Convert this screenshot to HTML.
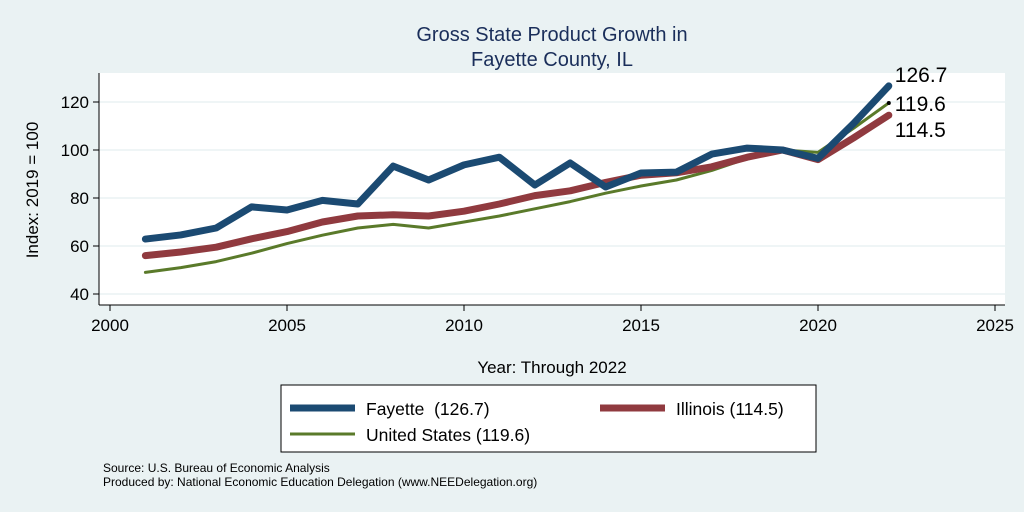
<!DOCTYPE html>
<html><head><meta charset="utf-8"><style>
body{margin:0;background:#eaf2f3;font-family:"Liberation Sans",sans-serif}
svg{display:block}
</style></head><body>
<svg id="c" width="1024" height="512" xmlns="http://www.w3.org/2000/svg">
<rect x="0" y="0" width="1024" height="512" fill="#eaf2f3"/>
<rect x="99" y="73" width="906" height="232" fill="#fff"/>
<text x="552" y="41" text-anchor="middle" font-size="20" fill="#1a2e5a">Gross State Product Growth in</text>
<text x="552" y="66" text-anchor="middle" font-size="20" fill="#1a2e5a">Fayette County, IL</text>
<g id="grid"></g><g id="axes"></g><g id="series"></g>
<text x="38" y="190" text-anchor="middle" font-size="17" transform="rotate(-90 38 190)">Index: 2019 = 100</text>
<text x="552" y="373" text-anchor="middle" font-size="17">Year: Through 2022</text>
<g>
<rect x="281" y="385" width="535" height="67" fill="#fff" stroke="#000" stroke-width="1"/>
<g><line x1="290" y1="408" x2="355" y2="408" stroke="#1b4a72" stroke-width="7"/><text x="366" y="415" font-size="17.5" xml:space="preserve">Fayette  (126.7)</text></g>
<g><line x1="600" y1="408" x2="665" y2="408" stroke="#903a3f" stroke-width="7"/><text x="676" y="415" font-size="17.5">Illinois (114.5)</text></g>
<g><line x1="290" y1="434" x2="355" y2="434" stroke="#5a7a2a" stroke-width="3"/><text x="366" y="441" font-size="17.5">United States (119.6)</text></g>
</g>
<text x="103" y="472" font-size="12">Source: U.S. Bureau of Economic Analysis</text>
<text x="103" y="486" font-size="12">Produced by: National Economic Education Delegation (www.NEEDelegation.org)</text>
</svg>
<script>
const years=[2001,2002,2003,2004,2005,2006,2007,2008,2009,2010,2011,2012,2013,2014,2015,2016,2017,2018,2019,2020,2021,2022];
const fayette=[62.9,64.6,67.5,76.3,75,79,77.5,93.3,87.5,93.8,97,85.4,94.6,84.6,90.4,90.8,98.3,100.8,100,96.5,111,126.7];
const illinois=[56,57.5,59.5,63,66,70,72.5,73,72.5,74.5,77.5,81,83,86.5,89.5,90.5,93,97,100,96,105,114.5];
const us=[49,51,53.5,57,61,64.5,67.5,69,67.5,70,72.5,75.5,78.5,82,85,87.5,91.5,96.5,100,99,109,119.6];
const yTicks=[40,60,80,100,120];
const xTicks=[2000,2005,2010,2015,2020,2025];
const X=v=>110+(v-2000)*35.4, Y=v=>294-(v-40)*2.4;
const NS="http://www.w3.org/2000/svg";
function mk(p,t,a){const e=document.createElementNS(NS,t);for(const k in a)e.setAttribute(k,a[k]);p.appendChild(e);return e;}
const g=document.getElementById('grid'),ax=document.getElementById('axes'),s=document.getElementById('series');
yTicks.forEach(v=>{
 const l=mk(g,'line',{x1:99,x2:1005,y1:Y(v),y2:Y(v),stroke:'#eaf2f3','stroke-width':1.5});
 
 
 mk(ax,'line',{x1:93,x2:99,y1:Y(v),y2:Y(v),stroke:'#000'});
 const t=mk(ax,'text',{x:89,y:Y(v)+6,'text-anchor':'end','font-size':17});t.textContent=v;
 
 
});
mk(ax,'line',{x1:99,x2:99,y1:73,y2:305,stroke:'#000'});
mk(ax,'line',{x1:99,x2:1005,y1:305,y2:305,stroke:'#000'});
xTicks.forEach(v=>{
 mk(ax,'line',{x1:X(v),x2:X(v),y1:305,y2:311,stroke:'#000'});
 const t=mk(ax,'text',{x:X(v),y:331,'text-anchor':'middle','font-size':17});t.textContent=v;
 
 
});
function line(d,c,w,n){
 const p=mk(s,'polyline',{points:d.map((v,i)=>X(years[i])+','+Y(v)).join(' '),fill:'none',stroke:c,'stroke-width':w,'stroke-linejoin':'round','stroke-linecap':'round'});
 
 
}
line(us,'#5a7a2a',3,'us-line');
line(illinois,'#903a3f',7,'illinois-line');
line(fayette,'#1b4a72',7,'fayette-line');
mk(s,'circle',{cx:X(2022),cy:Y(us[21]),r:2,fill:'#000'});
[[fayette,-4],[us,8],[illinois,22]].forEach(([d,o])=>{
 const v=d[d.length-1];
 const t=mk(s,'text',{x:X(2022)+6,y:Y(v)+o,'font-size':21});t.textContent=v.toFixed(1);
 
 
});
</script>
</body></html>
